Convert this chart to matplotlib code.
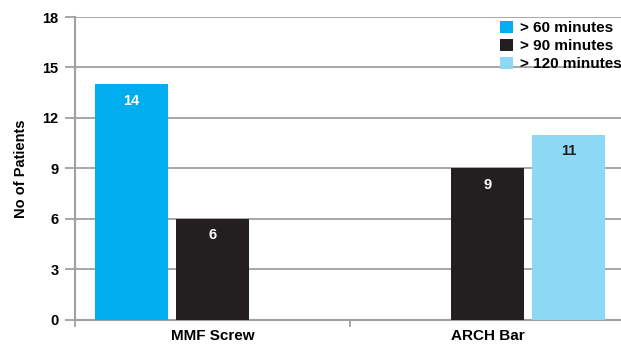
import numpy as np
import matplotlib.pyplot as plt
from matplotlib.patches import Patch

plt.rcParams['font.family'] = ['Liberation Sans', 'DejaVu Sans']
plt.rcParams['font.weight'] = 'bold'

# Patients per fixation method and operating time
categories = ["MMF Screw", "ARCH Bar"]
series = ["> 60 minutes", "> 90 minutes", "> 120 minutes"]
values = [
    [14, 0],    # > 60 minutes
    [6, 9],     # > 90 minutes
    [0, 11],    # > 120 minutes
]
colors = ["#00AEEF", "#231F20", "#8DD8F5"]
label_colors = ["white", "white", "#231F20"]
yticks = [0, 3, 6, 9, 12, 15, 18]

fig = plt.figure(figsize=(6.21, 3.46), dpi=100)
ax = fig.add_axes([75/621, 26.5/346, 550/621, 302.5/346])

x = np.arange(len(categories))
w = 0.265
offsets = [-0.295, 0.0, 0.295]
grey = "#A0A0A0"

for i, s in enumerate(series):
    for j, v in enumerate(values[i]):
        if v == 0:
            continue
        ax.bar(x[j] + offsets[i], v, width=w, color=colors[i], zorder=3)
        ax.text(x[j] + offsets[i], v - 1.0, str(v), color=label_colors[i],
                ha="center", va="center", fontsize=10.5, fontweight="bold", zorder=4)

ax.set_xlim(-0.5, 1.5)
ax.set_ylim(0, 18)
ax.set_yticks(yticks)
ax.set_yticklabels([str(t) for t in yticks], fontsize=10.5, fontweight="bold")
ax.grid(axis="y", color=grey, linewidth=1.3, zorder=0)
ax.tick_params(axis="y", length=7, width=1.3, color=grey, pad=5)

# category labels centred, tick marks on the category boundaries
ax.set_xticks([-0.5, 0.5, 1.5])
ax.set_xticklabels([])
ax.set_xticks(x, minor=True)
ax.set_xticklabels(categories, minor=True, fontsize=11, fontweight="bold")
ax.tick_params(axis="x", which="major", length=5, width=1.3, color=grey)
ax.tick_params(axis="x", which="minor", length=0, pad=7)

for side in ["top", "right"]:
    ax.spines[side].set_visible(False)
for side in ["left", "bottom"]:
    ax.spines[side].set_color(grey)
    ax.spines[side].set_linewidth(1.5)

ax.set_ylabel("No of Patients", fontsize=10.5, fontweight="bold", labelpad=10)

handles = [Patch(facecolor=c, edgecolor="none") for c in colors]
fig.legend(handles, series, loc="upper left", bbox_to_anchor=(489/621, 1 - 10/346),
           frameon=False, handlelength=0.85, handleheight=0.85,
           handletextpad=0.5, labelspacing=0.25, borderpad=0.2,
           prop={"weight": "bold", "size": 11})

fig.savefig("out.png", dpi=100)
